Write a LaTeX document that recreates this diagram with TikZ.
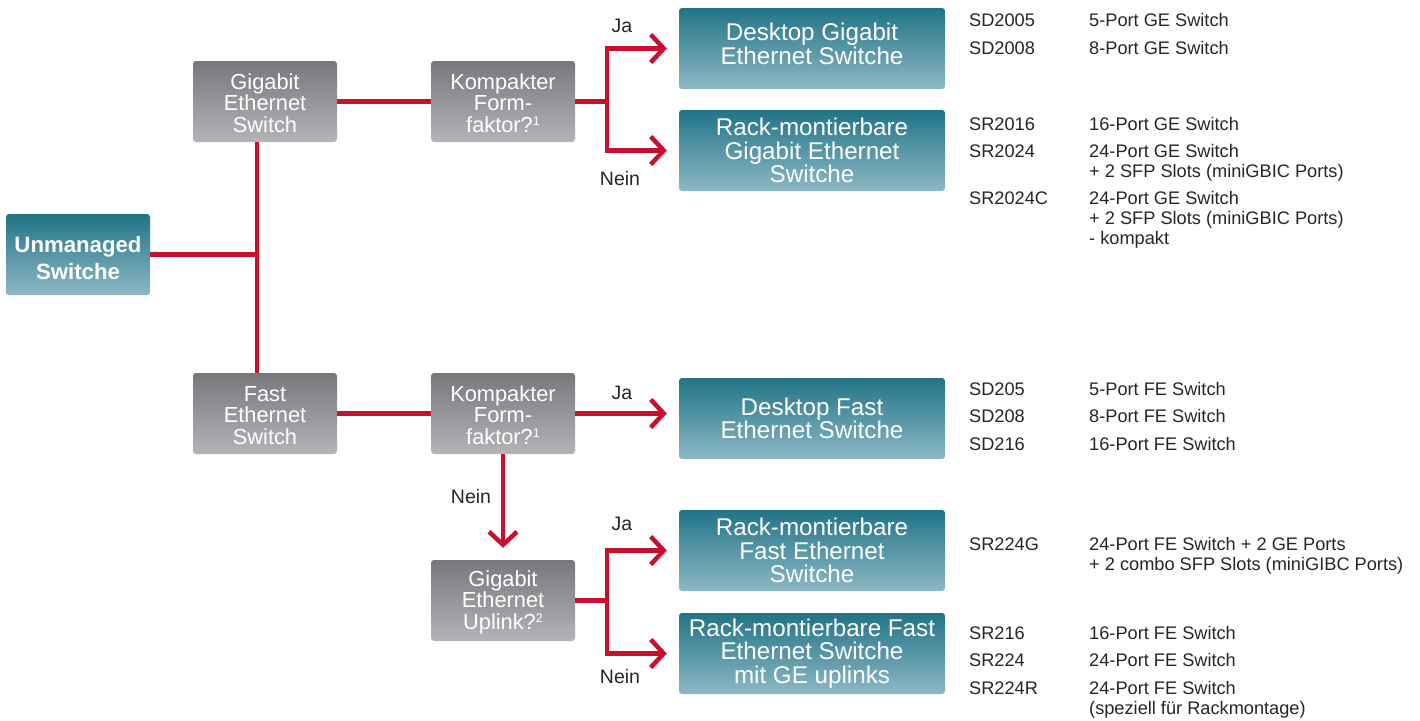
\documentclass[tikz,border=0pt]{standalone}
\usepackage{fontspec}
\setmainfont{Liberation Sans}
\usetikzlibrary{arrows.meta}
\definecolor{cred}{HTML}{C8102E}
\definecolor{tealtop}{HTML}{217487}
\definecolor{tealbot}{HTML}{8DB8C5}
\definecolor{graytop}{HTML}{77787C}
\definecolor{graybot}{HTML}{B3B4B7}
\definecolor{txt}{HTML}{262626}
\newcommand{\supr}[1]{\raisebox{0.32em}{\fontsize{12.5}{12.5}\selectfont #1}}
\begin{document}
\begin{tikzpicture}[x=1pt,y=-1pt,
  gbox/.style={rectangle, rounded corners=3pt, top color=graytop, bottom color=graybot,
    minimum width=144pt, minimum height=81pt, text=white, align=center, inner sep=0pt,
    font=\fontsize{21.8}{21.5}\selectfont},
  tbox/.style={rectangle, rounded corners=3pt, top color=tealtop, bottom color=tealbot,
    minimum width=266pt, minimum height=81pt, text=white, align=center, inner sep=0pt,
    font=\fontsize{24.2}{23.5}\selectfont},
  link/.style={draw=cred, line width=4.5pt},
  arr/.style={link, -{Straight Barb[length=13pt, width=28pt]}, shorten >=12pt},
  lbl/.style={text=txt, inner sep=0pt, font=\fontsize{19.5}{20}\selectfont},
  info/.style={anchor=base west, text=txt, inner sep=0pt, font=\fontsize{18.2}{20}\selectfont},
]
\useasboundingbox (0,0) rectangle (1420,720);

% boxes
\node[tbox, minimum width=144pt, font=\bfseries\fontsize{22.2}{27}\selectfont] (unm) at (78,254.5) {\rule{0pt}{24pt}Unmanaged\\Switche};
\node[gbox] (gig) at (265,101.5) {\rule{0pt}{19pt}Gigabit\\Ethernet\\Switch};
\node[gbox] (komp1) at (503,101.5) {\rule{0pt}{19pt}Kompakter\\Form-\\faktor?\supr{1}};
\node[gbox] (fast) at (265,413.5) {\rule{0pt}{19pt}Fast\\Ethernet\\Switch};
\node[gbox] (komp2) at (503,413.5) {\rule{0pt}{19pt}Kompakter\\Form-\\faktor?\supr{1}};
\node[gbox] (uplink) at (503,600.5) {\rule{0pt}{19pt}Gigabit\\Ethernet\\Uplink?\supr{2}};

\node[tbox] (deskgig) at (812,48.5) {Desktop Gigabit\\Ethernet Switche\rule[-10pt]{0pt}{1pt}};
\node[tbox] (rackgig) at (812,150.5) {Rack-montierbare\\Gigabit Ethernet\\Switche};
\node[tbox] (deskfast) at (812,418.5) {Desktop Fast\\Ethernet Switche};
\node[tbox] (rackfast) at (812,550.5) {Rack-montierbare\\Fast Ethernet\\Switche};
\node[tbox] (rackup) at (812,653.5) {Rack-montierbare Fast\\Ethernet Switche\\mit GE uplinks};

% connectors
\coordinate (trunk) at (257,254.5);
\draw[link] (unm.east) -- (trunk);
\draw[link] (gig.south -| trunk) -- (fast.north -| trunk);
\draw[link] (gig.east) -- (komp1.west);
\draw[link] (fast.east) -- (komp2.west);

\draw[arr] (komp1.east) -- ++(32,0) |- (deskgig.west);
\draw[arr] (komp1.east) -- ++(32,0) |- (rackgig.west);
\draw[arr] (komp2.east) -- (komp2.east -| deskfast.west);
\draw[arr] (komp2.south) -- (uplink.north);
\draw[arr] (uplink.east) -- ++(32,0) |- (rackfast.west);
\draw[arr] (uplink.east) -- ++(32,0) |- (rackup.west);

% labels
\node[lbl] (l1) at (622,26) {Ja};
\node[lbl] (l2) at (620,179) {Nein};
\node[lbl] (l3) at (622,393) {Ja};
\node[lbl] (l4) at (471,497) {Nein};
\node[lbl] (l5) at (622,524) {Ja};
\node[lbl] (l6) at (620,677) {Nein};

% product lists
\node[info] (c1) at (969,26.5) {SD2005};   \node[info] (d1) at (1089,26.5) {5-Port GE Switch};
\node[info] (c2) at (969,54) {SD2008};     \node[info] (d2) at (1089,54) {8-Port GE Switch};
\node[info] (c3) at (969,130) {SR2016};    \node[info] (d3) at (1089,130) {16-Port GE Switch};
\node[info] (c4) at (969,157) {SR2024};    \node[info] (d4) at (1089,157) {24-Port GE Switch};
\node[info] (d4b) at (1089,177) {+ 2 SFP Slots (miniGBIC Ports)};
\node[info] (c5) at (969,204) {SR2024C};   \node[info] (d5) at (1089,204) {24-Port GE Switch};
\node[info] (d5b) at (1089,224) {+ 2 SFP Slots (miniGBIC Ports)};
\node[info] (d5c) at (1089,244) {- kompakt};

\node[info] (c6) at (969,395.5) {SD205};   \node[info] (d6) at (1089,395.5) {5-Port FE Switch};
\node[info] (c7) at (969,422.5) {SD208};   \node[info] (d7) at (1089,422.5) {8-Port FE Switch};
\node[info] (c8) at (969,450) {SD216};     \node[info] (d8) at (1089,450) {16-Port FE Switch};
\node[info] (c9) at (969,550) {SR224G};    \node[info] (d9) at (1089,550) {24-Port FE Switch + 2 GE Ports};
\node[info] (d9b) at (1089,570) {+ 2 combo SFP Slots (miniGIBC Ports)};
\node[info] (c10) at (969,639.5) {SR216};  \node[info] (d10) at (1089,639.5) {16-Port FE Switch};
\node[info] (c11) at (969,666.5) {SR224};  \node[info] (d11) at (1089,666.5) {24-Port FE Switch};
\node[info] (c12) at (969,694) {SR224R};   \node[info] (d12) at (1089,694) {24-Port FE Switch};
\node[info] (d12b) at (1089,714) {(speziell für Rackmontage)};
\end{tikzpicture}
\end{document}
